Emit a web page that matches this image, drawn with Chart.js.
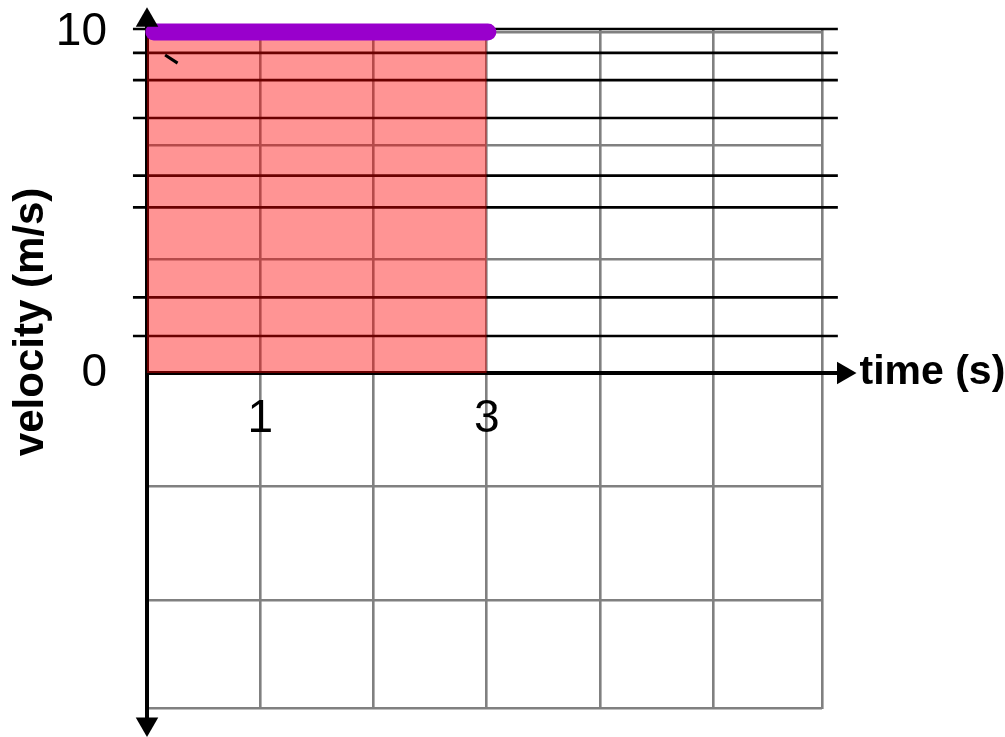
<!DOCTYPE html>
<html><head><meta charset="utf-8">
<script src="https://cdn.jsdelivr.net/npm/chart.js@4/dist/chart.umd.min.js"></script>
<style>html,body{margin:0;padding:0;background:#fff;overflow:hidden}#wrap{position:relative;width:1005px;height:737px}</style>
</head><body><div id="wrap"><canvas id="c" width="1005" height="737"></canvas></div>
<script>
// ---- data ----
const timeRange = [0, 5.96];
const velocityRange = [-9.85, 10.12];
const xGridValues = [0, 1, 2, 3, 4, 5, 5.96];
const yGridValues = [-9.82, -6.67, -3.33, 0, 3.33, 6.67, 10];
const xTickLabels = {1: '1', 3: '3'};
const yTickLabels = {0: '0', 10: '10'};
const areaTimes = [0, 3];
const areaVelocities = [10, 10];
const motionTimes = [0.06, 3.01];
const motionVelocities = [10, 10];
const extraLineValues = [10.09, 9.39, 8.59, 7.48, 5.79, 4.86, 2.22, 1.09];
const extraLineSpan = [-0.124, 6.1];
const markTimes = [0.16, 0.27];
const markVelocities = [9.33, 9.09];
const xAxisSpan = [0, 6.15];
const yAxisSpan = [-10.29, 10.35];
const xTitle = 'time (s)';
const yTitle = 'velocity (m/s)';

// ---- datasets ----
const datasets = [];
datasets.push({
  label: 'area',
  data: areaTimes.map((t, i) => ({x: t, y: areaVelocities[i]})),
  borderWidth: 0, borderColor: 'rgba(0,0,0,0)',
  backgroundColor: 'rgba(255,0,0,0.42)', fill: 'origin',
  pointRadius: 0, clip: false, order: 1
});
datasets.push({
  label: 'velocity',
  data: motionTimes.map((t, i) => ({x: t, y: motionVelocities[i]})),
  borderColor: '#9900cc', borderWidth: 17, borderCapStyle: 'round',
  fill: false, pointRadius: 0, clip: false, order: 0
});
extraLineValues.forEach(v => datasets.push({
  data: extraLineSpan.map(x => ({x: x, y: v})),
  borderColor: '#000', borderWidth: 2.6, pointRadius: 0, fill: false, clip: false, order: 5
}));
datasets.push({
  data: markTimes.map((t, i) => ({x: t, y: markVelocities[i]})),
  borderColor: '#000', borderWidth: 3, pointRadius: 0, fill: false, clip: false, order: -1
});
datasets.push({
  data: yAxisSpan.map(y => ({x: 0, y: y})),
  borderColor: '#000', borderWidth: 4, fill: false, clip: false, order: 4, pointRadius: 0
});
datasets.push({
  data: xAxisSpan.map(x => ({x: x, y: 0})),
  borderColor: '#000', borderWidth: 4, fill: false, clip: false, order: 4, pointRadius: 0
});

// arrow heads at the ends of the axis lines: [x, y, rotation]
const arrowHeads = [[0, yAxisSpan[1], 0], [0, yAxisSpan[0], 180], [xAxisSpan[1], 0, 90]];

const titlesPlugin = {
  id: 'titles',
  afterDatasetsDraw(chart) {
    const ctx = chart.ctx, xs = chart.scales.x, ys = chart.scales.y;
    ctx.save();
    ctx.fillStyle = '#000';
    const r = 13;
    arrowHeads.forEach(([xv, yv, rot]) => {
      const cx = xs.getPixelForValue(xv), cy = ys.getPixelForValue(yv);
      let a = rot * Math.PI / 180;
      ctx.beginPath();
      for (let k = 0; k < 3; k++) {
        const px = cx + Math.sin(a) * r, py = cy - Math.cos(a) * r;
        k ? ctx.lineTo(px, py) : ctx.moveTo(px, py);
        a += 2 * Math.PI / 3;
      }
      ctx.closePath(); ctx.fill();
    });
    ctx.font = "bold 41px 'Liberation Sans', Arial, sans-serif";
    ctx.textAlign = 'left'; ctx.textBaseline = 'middle';
    ctx.fillText(xTitle, xs.getPixelForValue(xAxisSpan[1]) + 16, ys.getPixelForValue(0));
    ctx.translate(31, ys.getPixelForValue(1.5));
    ctx.rotate(-Math.PI / 2);
    ctx.font = "bold 42px 'Liberation Sans', Arial, sans-serif";
    ctx.textAlign = 'center';
    ctx.fillText(yTitle, 0, 0);
    ctx.restore();
  }
};

new Chart(document.getElementById('c'), {
  type: 'line',
  data: {datasets: datasets},
  plugins: [titlesPlugin],
  options: {
    responsive: false, animation: false, devicePixelRatio: 1, events: [],
    layout: {padding: {left: 0, right: 183, top: 28, bottom: 28}},
    plugins: {legend: {display: false}, tooltip: {enabled: false}},
    scales: {
      x: {
        type: 'linear', min: timeRange[0], max: timeRange[1], position: {y: 0},
        afterBuildTicks: s => { s.ticks = xGridValues.map(v => ({value: v})); },
        afterFit: s => { s.paddingLeft = 0; s.paddingRight = 0; s.paddingTop = 0; s.paddingBottom = 0; },
        grid: {color: '#808080', lineWidth: 2.6, drawTicks: false},
        border: {display: false},
        ticks: {autoSkip: false, maxRotation: 0, padding: 19, color: '#000',
          font: {family: "'Liberation Sans', Arial, sans-serif", size: 46},
          callback: v => xTickLabels[v] ?? ''}
      },
      y: {
        type: 'linear', min: velocityRange[0], max: velocityRange[1],
        afterBuildTicks: s => { s.ticks = yGridValues.map(v => ({value: v})); },
        afterFit: s => { s.width = 147; s.paddingTop = 0; s.paddingBottom = 0; s.paddingLeft = 0; s.paddingRight = 0; },
        grid: {color: '#808080', lineWidth: 2.6, drawTicks: false},
        border: {display: false},
        ticks: {autoSkip: false, padding: 40, color: '#000',
          font: {family: "'Liberation Sans', Arial, sans-serif", size: 46},
          callback: v => yTickLabels[v] ?? ''}
      }
    }
  }
});
</script></body></html>
